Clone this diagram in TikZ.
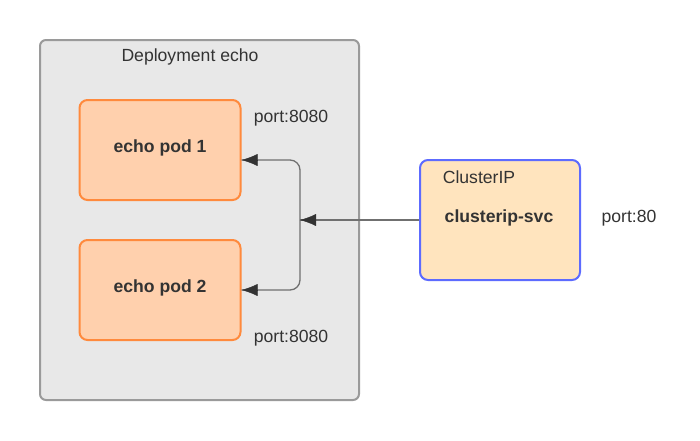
\documentclass[tikz,border=0pt]{standalone}
\usepackage{fontspec}
\setmainfont{Liberation Sans}
\usetikzlibrary{positioning,arrows.meta}

\definecolor{deployfill}{HTML}{E8E8E8}
\definecolor{deploydraw}{HTML}{9A9A9A}
\definecolor{podfill}{HTML}{FFD0AD}
\definecolor{poddraw}{HTML}{FF8A3D}
\definecolor{svcfill}{HTML}{FFE4BE}
\definecolor{svcdraw}{HTML}{5D6BFF}
\definecolor{txt}{HTML}{333333}
\definecolor{wire}{HTML}{707070}

\begin{document}
\begin{tikzpicture}[
  x=1pt, y=-1pt,
  font=\fontsize{17.6}{20}\selectfont, text=txt,
  groupbox/.style={draw=deploydraw,fill=deployfill,line width=2pt,rounded corners=6pt,minimum width=319pt,minimum height=360pt,inner sep=0pt},
  podbox/.style={draw=poddraw,fill=podfill,line width=2pt,rounded corners=8pt,minimum width=161pt,minimum height=100pt,inner sep=0pt},
  svcbox/.style={draw=svcdraw,fill=svcfill,line width=2pt,rounded corners=8pt,minimum width=160pt,minimum height=120pt,inner sep=0pt},
  wire/.style={draw=wire,line width=1.3pt},
  tip/.style={-{Latex[length=16pt,width=12pt]},color=txt}
]
\useasboundingbox (0,0) rectangle (700,440);

\node[groupbox] (deploy) at (199.5,220) {};
\node (deploytitle) at (190,57) {Deployment echo};

\node[podbox] (pod1) at (160,150) {};
\node (pod1text) at (160,148) {\bfseries echo pod 1};
\node[podbox] (pod2) at (160,290) {};
\node (pod2text) at (160,288) {\bfseries echo pod 2};

\node[svcbox] (svc) at (500,220) {};
\node (svctype) at (479,177) {ClusterIP};
\node (svcname) at (499,218) {\bfseries clusterip-svc};

\node (port1) at (291,118) {port:8080};
\node (port2) at (291,338) {port:8080};
\node (port3) at (629,218) {port:80};

\coordinate (split) at (300,220);
\coordinate (pod1in) at ([yshift=-10pt]pod1.east);

\draw[wire] (svc.west) -- (split);
\draw[wire,rounded corners=10pt] (split) |- (pod1in);
\draw[wire,rounded corners=10pt] (split) |- (pod2.east);
\draw[tip] ([xshift=15pt]split) -- (split);
\draw[tip] ([xshift=15pt]pod1in) -- (pod1in);
\draw[tip] ([xshift=15pt]pod2.east) -- (pod2.east);
\end{tikzpicture}
\end{document}
